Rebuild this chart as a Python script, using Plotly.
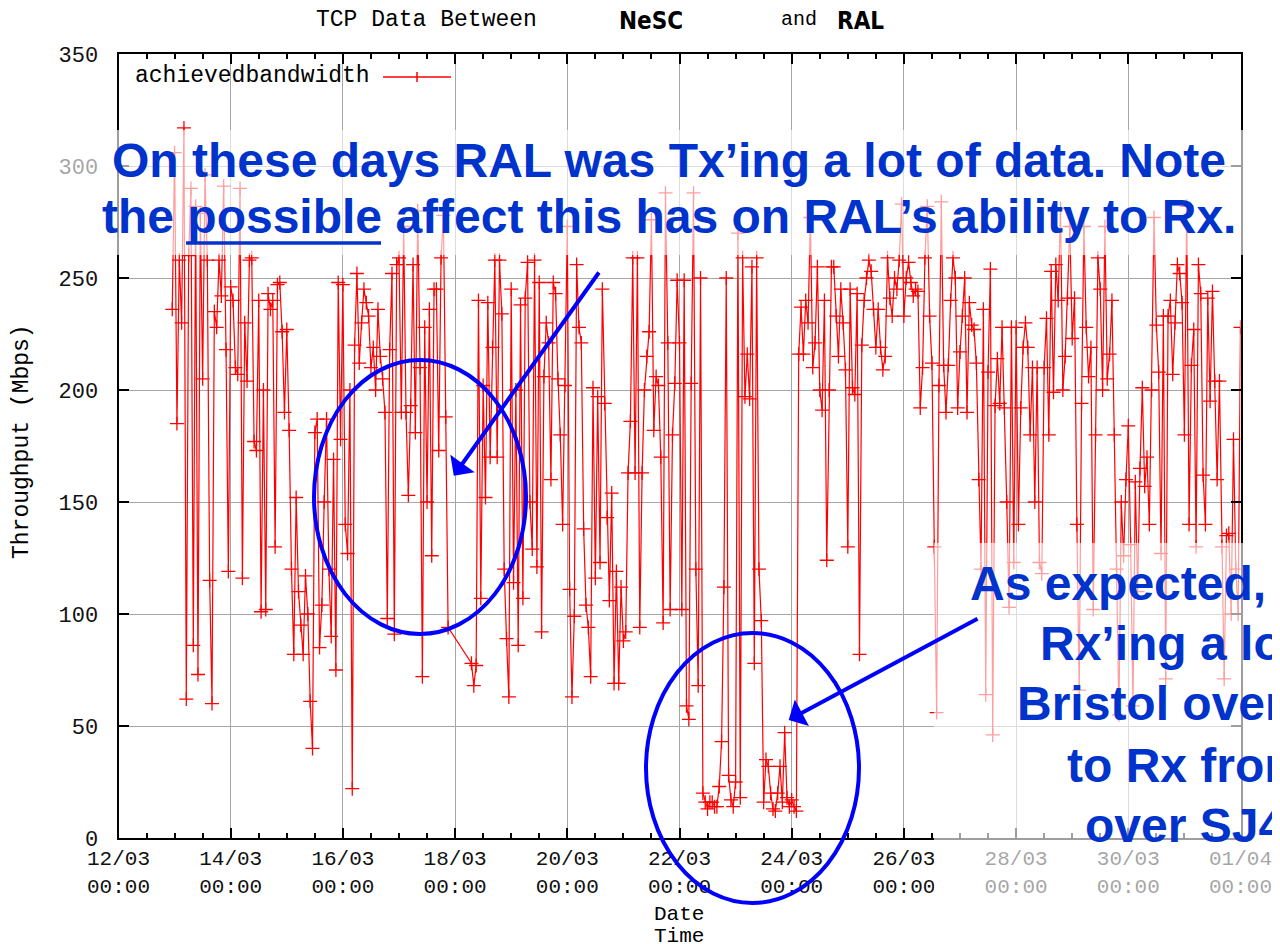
import plotly.graph_objects as go
import pandas as pd

# ---------------- data (hourly readings, Mbps) ----------------
start_time = "2004-03-12 23:00"
first_value = [236]
d13 = [306, 185, 258, 230, 317, 62, 260, 290, 86, 282, 73, 279, 205, 296, 258, 115, 60, 235, 228, 258, 242, 291, 218, 119]
d14 = [246, 240, 210, 207, 290, 116, 230, 204, 258, 259, 177, 173, 240, 101, 200, 102, 243, 236, 240, 130, 247, 248, 226, 190]
d15 = [227, 182, 120, 82, 152, 110, 95, 82, 117, 100, 61, 40, 181, 187, 85, 104, 150, 187, 120, 90, 169, 75, 248, 178]
d16 = [247, 140, 127, 200, 22, 220, 252, 212, 230, 245, 239, 233, 210, 219, 200, 236, 215, 205, 190, 98, 218, 252, 91, 256]
d17 = [259, 190, 273, 190, 153, 193, 256, 181, 280, 210, 72, 228, 150, 236, 126, 245, 245, 173, 259, 278, 188, 94, None, None]
d18 = [None, None, None, None, None, None, None, 78, 68, 77, 240, 107, 202, 152, 239, 170, 219, 258, 170, 258, 234, 120, 89, 63]
d19 = [245, 114, 200, 86, 238, 107, 241, 257, 150, 129, 258, 121, 248, 92, 206, 230, 221, 160, 248, 243, 205, 180, 140, 202]
d20 = [273, 111, 63, 99, 256, 228, 221, 138, 104, 94, 72, 201, 116, 197, 123, 245, 194, 143, 106, 154, 69, 119, 69, 112]
d21 = [88, 92, 163, 186, 259, 163, 259, 94, 163, 200, 215, 226, 276, 182, 206, 202, 170, 96, 288, 221, 102, 180, 203, 249]
d22 = [221, 102, 249, 59, 53, 203, 288, 120, 68, 250, 20, 16, 13, 16, 16, 14, 14, 23, 43, 112, 250, 28, 17, 14]
d23 = [25, 270, 18, 259, 197, 216, 196, 255, 78, 259, 120, 97, 16, 35, 32, 20, 13, 12, 20, 32, 16, 47, 18, 14]
d24 = [17, 14, 12, 216, 237, 216, 240, 230, 277, 210, 221, 255, 200, 191, 240, 124, 200, 255, 255, 233, 215, 245, 230, 209]
d25 = [130, 245, 201, 198, 243, 82, 220, 240, 250, 258, 253, 236, 219, 236, 219, 209, 215, 259, 241, 233, 250, 245, 258, 283]
d26 = [233, 250, 257, 248, 242, 245, 244, 192, 210, 259, 282, 233, 212, 130, 56, 202, 284, 211, 190, 211, 240, 259, 250, 192]
d27 = [217, 233, 250, 190, 239, 229, 227, 212, 160, 120, 236, 64, 208, 254, 46, 193, 214, 194, 228, 192, 150, 103, 228, 123]
d28 = [228, 140, 192, 219, 230, 219, 180, 210, 150, 210, 123, 118, 210, 232, 180, 253, 199, 256, 240, 281, 200, 215, 241, 273]
d29 = [223, 241, 140, 66, 194, 273, 228, 206, 219, 102, 180, 259, 245, 200, 273, 205, 216, 240, 180, 120, 55, 150, 126, 160]
d30 = [184, 131, 59, 159, 110, 165, 201, 157, 170, 140, 200, 277, 229, 208, 127, 233, 71, 233, 240, 207, 230, 256, 252, 239]
d31 = [180, 282, 140, 211, 227, 130, 256, 243, 162, 140, 241, 195, 244, 204, 160, 204, 130, 71, 135, 136, 100, 178, 120, 100]
last_value = [228]

series_name = "achievedbandwidth"
x_range = ["2004-03-12 00:00", "2004-04-01 00:00"]
x_tick0 = "2004-03-12"
y_range = [0, 350]
y_step = 50

values = (first_value + d13 + d14 + d15 + d16 + d17 + d18 + d19 + d20 + d21 + d22
          + d23 + d24 + d25 + d26 + d27 + d28 + d29 + d30 + d31 + last_value)
times = pd.date_range(start_time, periods=len(values), freq="h")

# ---------------- layout helpers (screen pixel -> paper) ----------------
# the page body adds an 8 px margin, so the figure starts at (8, 8) on screen
OFF = 8
W, H = 1272, 936
def px(x):
    return (x - OFF) / W
def py(y):
    return 1 - (y - OFF) / H

RED = "#ff0000"
BLUE = "#0000ff"
TXT = "#0033cc"
MONO = "Liberation Mono, DejaVu Sans Mono, monospace"
SANS = "Liberation Sans, Arial, sans-serif"

fig = go.Figure()
fig.add_trace(go.Scatter(
    x=times, y=values, mode="lines+markers", connectgaps=True,
    name=series_name, showlegend=False,
    line=dict(color=RED, width=1.2),
    marker=dict(symbol="cross-thin", size=10, color=RED, line=dict(color=RED, width=1.3)),
))

axis_common = dict(
    ticks="inside", ticklen=10, tickwidth=1.5, tickcolor="#000",
    showline=True, linecolor="#000", linewidth=2, mirror="allticks",
    showgrid=True, gridcolor="#a6a6a6", gridwidth=1, zeroline=False,
    automargin=False,
)

fig.update_layout(
    width=W, height=H, margin=dict(l=0, r=0, t=0, b=0, autoexpand=False),
    paper_bgcolor="white", plot_bgcolor="white", showlegend=False,
    xaxis=dict(
        domain=[px(118.5), px(1240.5)], type="date", range=x_range,
        tick0=x_tick0, dtick=2 * 86400000, tickformat="%d/%m<br>%H:%M",
        ticklabelstandoff=0,
        tickfont=dict(family=MONO, size=21, color="#111"),
        minor=dict(dtick=43200000, ticks="inside", ticklen=5, tickwidth=1.5,
                   tickcolor="#000", showgrid=False),
        **axis_common,
    ),
    yaxis=dict(
        domain=[py(838), py(54)], range=y_range, dtick=y_step,
        ticklabelstandoff=14,
        tickfont=dict(family=MONO, size=22, color="#111"),
        **axis_common,
    ),
)

shapes = []
# semi-transparent white text boxes
shapes.append(dict(type="rect", xref="paper", yref="paper", layer="above",
                   x0=px(50), x1=px(1256), y0=py(255), y1=py(130),
                   fillcolor="rgba(255,255,255,0.62)", line=dict(width=0)))
shapes.append(dict(type="rect", xref="paper", yref="paper", layer="above",
                   x0=px(934), x1=px(1290), y0=py(950), y1=py(543),
                   fillcolor="rgba(255,255,255,0.62)", line=dict(width=0)))
# ellipses
shapes.append(dict(type="circle", xref="paper", yref="paper", layer="above",
                   x0=px(314), x1=px(526), y0=py(634), y1=py(360),
                   line=dict(color=BLUE, width=4)))
shapes.append(dict(type="circle", xref="paper", yref="paper", layer="above",
                   x0=px(646), x1=px(859), y0=py(903), y1=py(633),
                   line=dict(color=BLUE, width=4)))
# underline of "possible"
shapes.append(dict(type="line", xref="paper", yref="paper", layer="above",
                   x0=px(186), x1=px(381), y0=py(243), y1=py(243),
                   line=dict(color=TXT, width=3.5)))
# legend sample
shapes.append(dict(type="line", xref="paper", yref="paper", layer="above",
                   x0=px(383), x1=px(451), y0=py(77), y1=py(77),
                   line=dict(color=RED, width=1.5)))
shapes.append(dict(type="line", xref="paper", yref="paper", layer="above",
                   x0=px(417), x1=px(417), y0=py(82), y1=py(72),
                   line=dict(color=RED, width=1.5)))
fig.update_layout(shapes=shapes)

ann = []
def text(x, y, s, size, family, color="#000", xanchor="center", angle=0):
    ann.append(dict(x=px(x), y=py(y), xref="paper", yref="paper", text=s,
                    showarrow=False, xanchor=xanchor, yanchor="middle",
                    textangle=angle, font=dict(family=family, size=size, color=color)))

# title pieces
text(426, 20, "TCP Data Between", 23, MONO)
text(651, 21, "<b>NeSC</b>", 24, "DejaVu Sans Condensed, DejaVu Sans")
text(799, 20, "and", 20, MONO)
text(860, 21, "<b>RAL</b>", 24, "DejaVu Sans Condensed, DejaVu Sans")
# legend text
text(133, 76, series_name, 23, MONO, xanchor="left")
# axis titles
text(22, 442, "Throughput (Mbps)", 23, MONO, angle=-90)
text(679, 914, "Date", 21, MONO)
text(679, 936, "Time", 21, MONO)

# blue callouts
text(669, 161, "<b>On these days RAL was Tx’ing a lot of data. Note</b>", 48, SANS, TXT)
text(669, 216, "<b>the possible affect this has on RAL’s ability to Rx.</b>", 48, SANS, TXT)
text(968, 583, "<b>As expected, we were</b>", 48, SANS, TXT, xanchor="left")
text(1038, 643, "<b>Rx’ing a lot of data</b>", 48, SANS, TXT, xanchor="left")
text(1015, 703, "<b>Bristol over SJ4</b>", 48, SANS, TXT, xanchor="left")
text(1065, 765, "<b>to Rx from NeSC</b>", 48, SANS, TXT, xanchor="left")
text(1083, 825, "<b>over SJ4.</b>", 48, SANS, TXT, xanchor="left")

# arrows
def arrow(tx, ty, hx, hy):
    ann.append(dict(x=px(hx), y=py(hy), xref="paper", yref="paper", text="",
                    showarrow=True, ax=tx - hx, ay=ty - hy, arrowhead=1,
                    arrowsize=1.25, arrowwidth=4, arrowcolor=BLUE, standoff=0))

arrow(600, 271, 453.8, 475.7)
arrow(979, 618, 788.7, 719.9)

fig.update_layout(annotations=ann)
fig.write_html("out.html")
